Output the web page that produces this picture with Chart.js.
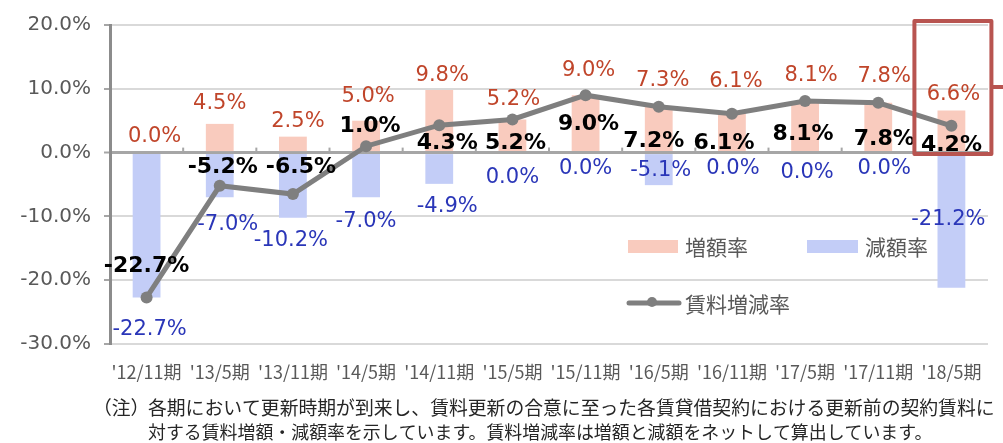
<!DOCTYPE html>
<html lang="ja">
<head>
<meta charset="utf-8">
<title>賃料増減率</title>
<script src="https://cdn.jsdelivr.net/npm/chart.js@4.4.1/dist/chart.umd.min.js"></script>
<style>
  html, body { margin: 0; padding: 0; background: #fff; }
  #chart { display: block; }
</style>
</head>
<body>
<canvas id="chart" width="1003" height="443"></canvas>
<script>
'use strict';

// data (%)
let periods = ["'12/11期", "'13/5期", "'13/11期", "'14/5期", "'14/11期", "'15/5期",
  "'15/11期", "'16/5期", "'16/11期", "'17/5期", "'17/11期", "'18/5期"];
let increaseRates = [0.0, 4.5, 2.5, 5.0, 9.8, 5.2, 9.0, 7.3, 6.1, 8.1, 7.8, 6.6];
let decreaseRates = [-22.7, -7.0, -10.2, -7.0, -4.9, 0.0, 0.0, -5.1, 0.0, 0.0, 0.0, -21.2];
let netRates = [-22.7, -5.2, -6.5, 1.0, 4.3, 5.2, 9.0, 7.2, 6.1, 8.1, 7.8, 4.2];

let yMin = -30;
let yMax = 20;
let yStep = 10;

let increaseName = '増額率';
let decreaseName = '減額率';
let netName = '賃料増減率';

let noteLines = [
  '（注）',
  '各期において更新時期が到来し、賃料更新の合意に至った各賃貸借契約における更新前の契約賃料に',
  '対する賃料増額・減額率を示しています。賃料増減率は増額と減額をネットして算出しています。'
];

// hand placed label nudges (px), like the original slide
let increaseDx = [8, 0, 5, 2, 3, 1, 3, 4, 4, 6, 6, 2];
let increaseDy = [-16, -20, -15, -24, -15, -20, -25, -25, -32, -25, -26, -16];
let decreaseDx = [3, 8, -2, 0, 8, 0, 0, 2, 1, 2, 6, -3];
let decreaseDy = [32, 27, 23, 24, 23, 25, 16, -15, 16, 20, 16, -68];
let netDx = [0, 3, 8, 4, 8, 3, 3, -5, -8, -2, 6, 0];
let netDy = [-31, -18, -27, -20, 18, 24, 29, 35, 30, 33, 36, 19];

let pink = '#F9CBBE';
let blue = '#C3CDF7';
let gray = '#7F7F7F';
let textGray = '#595959';
let redText = '#C0452A';
let blueText = '#2A36B8';
let highlight = '#B85450';

let jpFont = '"Noto Sans CJK JP", "Noto Sans", sans-serif';
let numFont = '"DejaVu Sans", Verdana, sans-serif';

function pct(v) {
  return v.toFixed(1) + '%';
}

// small marks on the zero line between periods
let zeroTicksPlugin = {
  id: 'zeroTicks',
  beforeDatasetsDraw(chart) {
    let ctx = chart.ctx;
    let x = chart.scales.x;
    let y0 = chart.scales.y.getPixelForValue(0);
    ctx.save();
    ctx.strokeStyle = '#A6A6A6';
    ctx.lineWidth = 2;
    for (let i = 1; i < periods.length; i++) {
      let px = (x.getPixelForValue(i - 1) + x.getPixelForValue(i)) / 2;
      ctx.beginPath();
      ctx.moveTo(px, y0 - 5);
      ctx.lineTo(px, y0);
      ctx.stroke();
    }
    ctx.restore();
  }
};

function drawLabels(chart, index, values, dx, dy, font, color) {
  let ctx = chart.ctx;
  let meta = chart.getDatasetMeta(index);
  ctx.font = font;
  ctx.fillStyle = color;
  ctx.textAlign = 'center';
  ctx.textBaseline = 'middle';
  for (let i = 0; i < values.length; i++) {
    let el = meta.data[i];
    ctx.fillText(pct(values[i]), el.x + dx[i], el.y + dy[i]);
  }
}

let labelsPlugin = {
  id: 'valueLabels',
  afterDatasetsDraw(chart) {
    let ctx = chart.ctx;
    ctx.save();
    drawLabels(chart, 0, increaseRates, increaseDx, increaseDy, '21px ' + numFont, redText);
    drawLabels(chart, 1, decreaseRates, decreaseDx, decreaseDy, '21px ' + numFont, blueText);
    drawLabels(chart, 2, netRates, netDx, netDy, 'bold 22px ' + numFont, '#000');
    ctx.restore();
  }
};

let legendPlugin = {
  id: 'insideLegend',
  afterDraw(chart) {
    let ctx = chart.ctx;
    ctx.save();
    ctx.font = '21px ' + jpFont;
    ctx.fillStyle = textGray;
    ctx.textBaseline = 'middle';
    ctx.textAlign = 'left';

    ctx.fillStyle = pink;
    ctx.fillRect(628, 240, 50, 13);
    ctx.fillStyle = textGray;
    ctx.fillText(increaseName, 685, 247);

    ctx.fillStyle = blue;
    ctx.fillRect(807, 240, 51, 13);
    ctx.fillStyle = textGray;
    ctx.fillText(decreaseName, 865, 247);

    ctx.strokeStyle = gray;
    ctx.lineWidth = 5;
    ctx.lineCap = 'round';
    ctx.beginPath();
    ctx.moveTo(629, 303);
    ctx.lineTo(679, 303);
    ctx.stroke();
    ctx.fillStyle = gray;
    ctx.beginPath();
    ctx.arc(652, 302, 5, 0, Math.PI * 2);
    ctx.fill();
    ctx.fillStyle = textGray;
    ctx.fillText(netName, 685, 304);
    ctx.restore();
  }
};

// red box round the latest period
let highlightPlugin = {
  id: 'highlight',
  afterDraw(chart) {
    let ctx = chart.ctx;
    let cx = chart.scales.x.getPixelForValue(periods.length - 1);
    ctx.save();
    ctx.strokeStyle = highlight;
    ctx.lineWidth = 4;
    ctx.lineJoin = 'round';
    ctx.strokeRect(cx - 37, 21, 77, 133);
    ctx.beginPath();
    ctx.moveTo(cx + 40, 87);
    ctx.lineTo(1003, 87);
    ctx.stroke();
    ctx.restore();
  }
};

// squeeze a line of text to the width it has on the slide
function fitFont(ctx, text, width) {
  ctx.font = '18px ' + jpFont;
  let size = 18 * width / ctx.measureText(text).width;
  return size.toFixed(2) + 'px ' + jpFont;
}

let notePlugin = {
  id: 'footNote',
  afterDraw(chart) {
    let ctx = chart.ctx;
    ctx.save();
    ctx.fillStyle = '#262626';
    ctx.textBaseline = 'middle';
    ctx.textAlign = 'left';
    let font1 = fitFont(ctx, noteLines[1], 847);
    ctx.font = font1;
    ctx.fillText(noteLines[0], 93, 408);
    ctx.fillText(noteLines[1], 148, 408);
    ctx.font = fitFont(ctx, noteLines[2], 785);
    ctx.fillText(noteLines[2], 148, 432);
    ctx.restore();
  }
};

let ctx = document.getElementById('chart').getContext('2d');

new Chart(ctx, {
  type: 'bar',
  data: {
    labels: periods,
    datasets: [
      {
        label: increaseName,
        data: increaseRates,
        backgroundColor: pink,
        barPercentage: 0.38,
        categoryPercentage: 1,
        order: 2
      },
      {
        label: decreaseName,
        data: decreaseRates,
        backgroundColor: blue,
        barPercentage: 0.38,
        categoryPercentage: 1,
        order: 1
      },
      {
        type: 'line',
        label: netName,
        data: netRates,
        borderColor: gray,
        borderWidth: 5,
        pointRadius: 6,
        pointBackgroundColor: gray,
        pointBorderWidth: 0,
        tension: 0,
        order: 0
      }
    ]
  },
  options: {
    responsive: false,
    animation: false,
    layout: {
      padding: { left: 0, right: 15, top: 16, bottom: 0 }
    },
    plugins: {
      legend: { display: false },
      tooltip: { enabled: false }
    },
    scales: {
      x: {
        stacked: true,
        grid: { display: false, drawTicks: false },
        border: { display: false },
        ticks: {
          autoSkip: false,
          maxRotation: 0,
          padding: 17,
          color: textGray,
          font: { family: jpFont, size: 18 }
        },
        afterFit(scale) {
          scale.height = 99;
        }
      },
      y: {
        min: yMin,
        max: yMax,
        ticks: {
          stepSize: yStep,
          padding: 13,
          color: textGray,
          font: { family: numFont, size: 20 },
          callback: (v) => pct(v)
        },
        grid: {
          color: (c) => (c.tick && c.tick.value === 0 ? '#A6A6A6' : '#D9D9D9'),
          lineWidth: (c) => (c.tick && c.tick.value === 0 ? 3 : 2),
          tickColor: '#A6A6A6',
          tickLength: 6,
          tickWidth: 2
        },
        border: { color: '#8C8C8C', width: 3 },
        afterFit(scale) {
          scale.width = 110;
        }
      }
    }
  },
  plugins: [zeroTicksPlugin, labelsPlugin, legendPlugin, highlightPlugin, notePlugin]
});
</script>
</body>
</html>
